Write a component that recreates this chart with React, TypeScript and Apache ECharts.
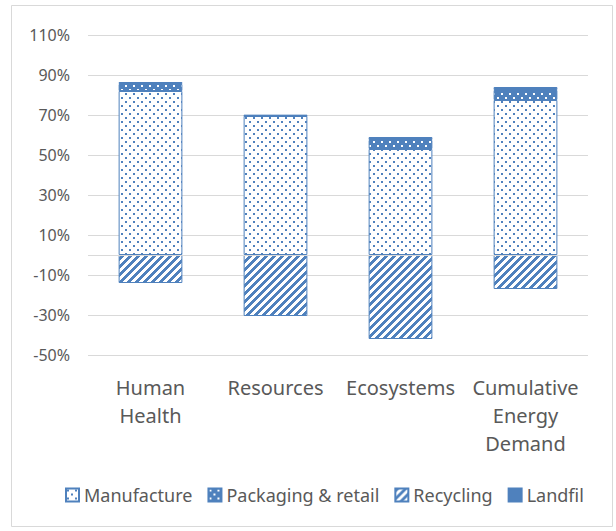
import React, { useEffect, useRef } from "react";
import * as echarts from "echarts";

const categories = ["Human Health", "Resources", "Ecosystems", "Cumulative Energy Demand"];
const manufacture = [82, 69.5, 53, 77.5];
const packaging = [3.5, 0.2, 4.5, 5];
const recycling = [-14, -30.5, -42, -17];
const landfill = [1, 0.3, 1.5, 1.5];
const seriesNames = ["Manufacture", "Packaging & retail", "Recycling", "Landfil"];

const Y_MIN = -50;
const Y_MAX = 110;
const Y_STEP = 20;

const BLUE = "#4F81BD";
const TEXT = "#595959";
const GRID = "#d9d9d9";
const FONT = "'Noto Sans', 'DejaVu Sans', sans-serif";

function makePattern(kind: string) {
  const c = document.createElement("canvas");
  c.width = 8;
  c.height = 8;
  const ctx = c.getContext("2d")!;
  if (kind === "manufacture") {
    ctx.fillStyle = "#ffffff";
    ctx.fillRect(0, 0, 8, 8);
    ctx.fillStyle = BLUE;
    ctx.fillRect(1, 1, 2, 2);
    ctx.fillRect(5, 5, 2, 2);
  } else if (kind === "packaging") {
    ctx.fillStyle = BLUE;
    ctx.fillRect(0, 0, 8, 8);
    ctx.fillStyle = "#ffffff";
    ctx.fillRect(1, 1, 2, 2);
    ctx.fillRect(5, 5, 2, 2);
  } else {
    ctx.fillStyle = "#ffffff";
    ctx.fillRect(0, 0, 8, 8);
    ctx.fillStyle = BLUE;
    for (let x = 0; x < 8; x++) {
      for (let y = 0; y < 8; y++) {
        if ((x + y) % 8 < 4) ctx.fillRect(x, y, 1, 1);
      }
    }
  }
  return { image: c, repeat: "repeat", imageWidth: 8, imageHeight: 8 } as any;
}

export default function App() {
  const ref = useRef<HTMLDivElement>(null);
  useEffect(() => {
    document.body.style.margin = "0";
    const chart = echarts.init(ref.current!, null, { renderer: "svg" });
    const pats = [makePattern("manufacture"), makePattern("packaging"), makePattern("recycling"), BLUE];
    const values = [manufacture, packaging, recycling, landfill];
    const series: any[] = values.map((d, i) => ({
      name: seriesNames[i],
      type: "bar",
      stack: "total",
      yAxisIndex: 1,
      barWidth: "51%",
      data: d,
      itemStyle: { color: pats[i], borderColor: BLUE, borderWidth: 1 },
      emphasis: { disabled: true },
    }));
    series[3].markLine = {
      silent: true,
      symbol: "none",
      label: { show: false },
      lineStyle: { color: GRID, type: "solid", width: 1 },
      data: [{ yAxis: 0 }],
    };
    chart.setOption({
      animation: false,
      textStyle: { fontFamily: FONT },
      graphic: [
        {
          type: "rect",
          shape: { x: 11.5, y: 5.5, width: 601, height: 521 },
          style: { fill: "none", stroke: GRID, lineWidth: 1 },
          silent: true,
        },
      ],
      grid: { left: 88, top: 35, width: 500, bottom: 176 },
      legend: {
        bottom: 22,
        left: 60,
        icon: "rect",
        itemWidth: 13,
        itemHeight: 13,
        itemGap: 15,
        textStyle: { fontSize: 18, color: TEXT, fontFamily: FONT },
        data: seriesNames,
      },
      xAxis: {
        type: "category",
        data: categories,
        axisLine: { show: false },
        axisTick: { show: false },
        axisLabel: {
          interval: 0,
          fontSize: 20,
          lineHeight: 28,
          color: TEXT,
          margin: 18,
          fontFamily: FONT,
          formatter: (v: string) => v.replace(/ /g, "\n"),
        },
      },
      yAxis: [
        {
          type: "value",
          min: 0,
          max: Y_MAX - Y_MIN,
          interval: Y_STEP,
          axisLine: { show: false },
          axisTick: { show: false },
          splitLine: { lineStyle: { color: GRID, width: 1 } },
          axisLabel: {
            fontSize: 16,
            color: TEXT,
            margin: 18,
            fontFamily: FONT,
            formatter: (v: number) => `${v + Y_MIN}%`,
          },
        },
        { type: "value", min: Y_MIN, max: Y_MAX, show: false },
      ],
      series,
    });
    return () => chart.dispose();
  }, []);
  return <div ref={ref} style={{ width: 616, height: 531 }} />;
}
